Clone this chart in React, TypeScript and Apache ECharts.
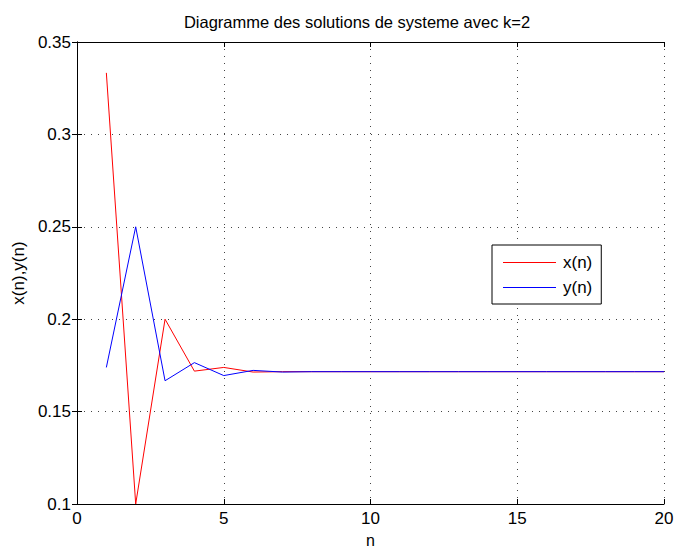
import React, { useEffect, useRef } from "react";
import * as echarts from "echarts";

const nValues = [1, 2, 3, 4, 5, 6, 7, 8, 9, 10, 11, 12, 13, 14, 15, 16, 17, 18, 19, 20];
const xSeries = [0.3333, 0.1, 0.2, 0.1719, 0.1739, 0.1714, 0.1716, 0.1716, 0.1716, 0.1716, 0.1716, 0.1716, 0.1716, 0.1716, 0.1716, 0.1716, 0.1716, 0.1716, 0.1716, 0.1716];
const ySeries = [0.1739, 0.25, 0.1667, 0.1765, 0.1695, 0.1723, 0.1714, 0.1716, 0.1716, 0.1716, 0.1716, 0.1716, 0.1716, 0.1716, 0.1716, 0.1716, 0.1716, 0.1716, 0.1716, 0.1716];
const seriesNames = ["x(n)", "y(n)"];
const titleText = "Diagramme des solutions de systeme avec k=2";

const FONT = "'Liberation Sans', Arial, Helvetica, sans-serif";

export default function App() {
  const ref = useRef<HTMLDivElement>(null);
  useEffect(() => {
    if (!ref.current) return;
    const chart = echarts.init(ref.current, null, { renderer: "svg" });
    const gridLine = { show: true, lineStyle: { color: "#444", width: 1, type: [1, 6] as any } };
    const axisLine = { show: true, lineStyle: { color: "#000", width: 1 } };
    chart.setOption({
      animation: false,
      backgroundColor: "#fff",
      textStyle: { fontFamily: FONT },
      graphic: [
        {
          type: "text",
          x: 357,
          y: 22,
          style: { text: titleText, font: `16.5px ${FONT}`, fill: "#000", textAlign: "center", textVerticalAlign: "middle" },
        },
      ],
      grid: { left: 77, right: 11, top: 42, bottom: 45, containLabel: false, outerBoundsMode: "none" },
      legend: {
        orient: "vertical",
        left: 492,
        top: 245,
        data: seriesNames,
        backgroundColor: "#fff",
        borderColor: "#000",
        borderWidth: 1,
        padding: [9, 9, 8, 11],
        icon: "rect",
        itemWidth: 53,
        itemHeight: 1,
        itemGap: 8,
        textStyle: { fontSize: 17, color: "#000", fontFamily: FONT, padding: [0, 0, 0, 2] },
      },
      xAxis: [
        {
          type: "value",
          min: 0,
          max: 20,
          interval: 5,
          name: "n",
          nameLocation: "middle",
          nameGap: 28,
          nameTextStyle: { fontSize: 16, lineHeight: 16, color: "#000", fontFamily: FONT },
          axisLine,
          axisTick: { show: true, inside: true, length: 5, lineStyle: { color: "#000" } },
          axisLabel: { fontSize: 17, color: "#000", margin: 6, fontFamily: FONT },
          splitLine: gridLine,
        },
        {
          type: "value",
          position: "top",
          min: 0,
          max: 20,
          interval: 5,
          axisLine,
          axisTick: { show: true, inside: true, length: 5, lineStyle: { color: "#000" } },
          axisLabel: { show: false },
          splitLine: { show: false },
        },
      ],
      yAxis: [
        {
          type: "value",
          min: 0.1,
          max: 0.35,
          interval: 0.05,
          name: "x(n),y(n)",
          nameLocation: "middle",
          nameGap: 48,
          nameTextStyle: { fontSize: 17, color: "#000", fontFamily: FONT },
          axisLine,
          axisTick: { show: true, inside: true, length: 5, lineStyle: { color: "#000" } },
          axisLabel: { fontSize: 17, color: "#000", margin: 6, fontFamily: FONT },
          splitLine: gridLine,
        },
        {
          type: "value",
          position: "right",
          min: 0.1,
          max: 0.35,
          interval: 0.05,
          axisLine,
          axisTick: { show: true, inside: true, length: 5, lineStyle: { color: "#000" } },
          axisLabel: { show: false },
          splitLine: { show: false },
        },
      ],
      series: [
        {
          name: seriesNames[0],
          type: "line",
          symbol: "none",
          data: nValues.map((n, i) => [n, xSeries[i]]),
          lineStyle: { color: "#ff0000", width: 1 },
          itemStyle: { color: "#ff0000" },
        },
        {
          name: seriesNames[1],
          type: "line",
          symbol: "none",
          data: nValues.map((n, i) => [n, ySeries[i]]),
          lineStyle: { color: "#0000ff", width: 1 },
          itemStyle: { color: "#0000ff" },
        },
      ],
    });
    return () => chart.dispose();
  }, []);
  return <div ref={ref} style={{ width: 675, height: 549, position: "absolute", left: 0, top: 0 }} />;
}
